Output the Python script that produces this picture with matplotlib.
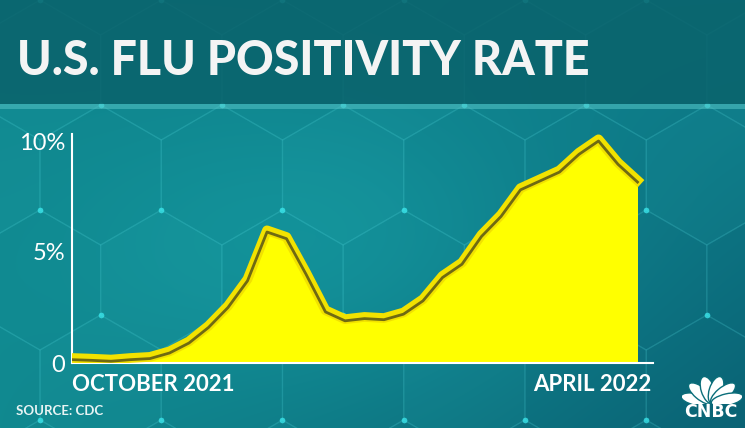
import numpy as np
import matplotlib
matplotlib.use("Agg")
import matplotlib.pyplot as plt
import matplotlib.patheffects as pe
from matplotlib.patches import Rectangle, Ellipse, Polygon
from matplotlib import font_manager

# weekly flu positivity, % (Oct 2021 -> Apr 2022)
weeks = list(range(30))
positivity = [0.15, 0.12, 0.08, 0.15, 0.2, 0.45, 0.9, 1.6, 2.5, 3.7,
              5.9, 5.6, 4.0, 2.3, 1.9, 2.0, 1.95, 2.2, 2.8, 3.85,
              4.45, 5.7, 6.6, 7.8, 8.2, 8.6, 9.4, 10.0, 8.95, 8.15]
y_ticks = [0, 5, 10]
y_tick_labels = ["0", "5%", "10%"]
x_labels = ["OCTOBER 2021", "APRIL 2022"]
title = "U.S. FLU POSITIVITY RATE"
source = "SOURCE: CDC"

W, H = 745, 428
available = {f.name for f in font_manager.fontManager.ttflist}
label_font = "Lato" if "Lato" in available else "DejaVu Sans"

fig = plt.figure(figsize=(W / 100, H / 100), dpi=100)

# background: teal gradient
bg = fig.add_axes([0, 0, 1, 1], zorder=0)
bg.set_xlim(0, W)
bg.set_ylim(H, 0)
bg.axis("off")
yy, xx = np.mgrid[0:H, 0:W]
u = xx / W
v = yy / H
tl = np.array([0x0f, 0x85, 0x8d]) / 255
tr = np.array([0x0e, 0x80, 0x8c]) / 255
bl = np.array([0x10, 0x88, 0x8f]) / 255
br = np.array([0x0a, 0x62, 0x74]) / 255
img = ((1 - u)[..., None] * (1 - v)[..., None] * tl + u[..., None] * (1 - v)[..., None] * tr
       + (1 - u)[..., None] * v[..., None] * bl + u[..., None] * v[..., None] * br)
glow = np.exp(-(((xx - 330) / 260) ** 2 + ((yy - 250) / 150) ** 2))
img = np.clip(img + glow[..., None] * np.array([0.02, 0.08, 0.07]), 0, 1)
bg.imshow(img, extent=(0, W, H, 0), aspect="auto", zorder=0)

# hex network decoration
edge = 70
dx = edge * np.sqrt(3)
for row in range(-1, 6):
    for col in range(-1, 7):
        cx = col * dx + (dx / 2 if row % 2 else 0) + 40
        cy = row * edge * 1.5 + 70
        pts = [(cx + edge * np.cos(np.radians(a)), cy + edge * np.sin(np.radians(a)))
               for a in range(30, 390, 60)]
        bg.add_patch(Polygon(pts, closed=True, fill=False, ec="#5fe6ec", lw=1.0, alpha=0.11, zorder=1))
        px, py = zip(*pts)
        bg.scatter(px[::2], py[::2], s=16, color="#3ff0f5", alpha=0.35, lw=0, zorder=1)
        if (row + col) % 3 == 0:
            bg.add_patch(Polygon(pts, closed=True, fc="#2fb8bd", ec="none", alpha=0.08, zorder=1))

# title banner
bg.add_patch(Rectangle((0, 0), W, 104, fc="#0a626b", alpha=0.85, zorder=2))
bg.add_patch(Rectangle((0, 104), W, 5, fc="#4fbfc2", alpha=0.6, zorder=2))
t = bg.text(17, 75, title, color="#f4f4f4", fontsize=34, fontweight="black",
            family=label_font, va="baseline", ha="left", zorder=3)
fig.canvas.draw()
w_now = t.get_window_extent().width
t.set_fontsize(34 * 573 / w_now)

# chart
x0, x1 = 72, 653
y_zero, y_top = 363, 134
px_per_unit = 22.2
ax = fig.add_axes([x0 / W, 1 - y_zero / H, (x1 - x0) / W, (y_zero - y_top) / H], zorder=2)
ax.patch.set_alpha(0)
ax.set_xlim(0, (x1 - x0) / 19.5)
ax.set_ylim(0, (y_zero - y_top) / px_per_unit)

ax.fill_between(weeks, positivity, 0, color="#ffff00", lw=0, zorder=2)
ax.plot(weeks, positivity, color="#6f6a12", lw=2.0, solid_joinstyle="round", zorder=3,
        path_effects=[pe.Stroke(linewidth=7, foreground="#f2e200", offset=(0, 1.2)), pe.Normal()])

for side in ["top", "right"]:
    ax.spines[side].set_visible(False)
for side in ["left", "bottom"]:
    ax.spines[side].set_color("white")
    ax.spines[side].set_linewidth(1.5)
ax.set_yticks(y_ticks)
ax.set_yticklabels(y_tick_labels)
ax.tick_params(axis="y", length=0, pad=5, labelsize=17, labelcolor="white")
for lab in ax.get_yticklabels():
    lab.set_family(label_font)
ax.set_xticks([])

ax.text(0, -0.05, x_labels[0], transform=ax.transAxes, ha="left", va="top",
        color="white", fontsize=16, fontweight="bold", family=label_font)
ax.text(0.997, -0.05, x_labels[1], transform=ax.transAxes, ha="right", va="top",
        color="white", fontsize=16, fontweight="bold", family=label_font)

bg.text(16, 415, source, color="#e8f4f4", fontsize=9.5, family=label_font,
        fontweight="bold", va="baseline", ha="left", zorder=3)

# CNBC logo (simplified peacock)
logo = fig.add_axes([682 / W, 1 - 404 / H, 60 / W, 28 / H], zorder=3)
logo.set_xlim(-1.15, 1.15)
logo.set_ylim(0, 1.25)
logo.axis("off")
for ang in [165, 135, 105, 75, 45, 15]:
    r = np.radians(ang)
    logo.add_patch(Ellipse((0.6 * np.cos(r), 0.04 + 0.6 * np.sin(r)), 0.52, 1.25,
                           angle=ang - 90, fc="white", ec="#0b6e7a", lw=1.0))
bg.text(711, 417, "CNBC", color="white", fontsize=12.5, fontweight="heavy",
        family="DejaVu Sans", ha="center", va="baseline", zorder=3)

fig.savefig("out.png", dpi=100)
